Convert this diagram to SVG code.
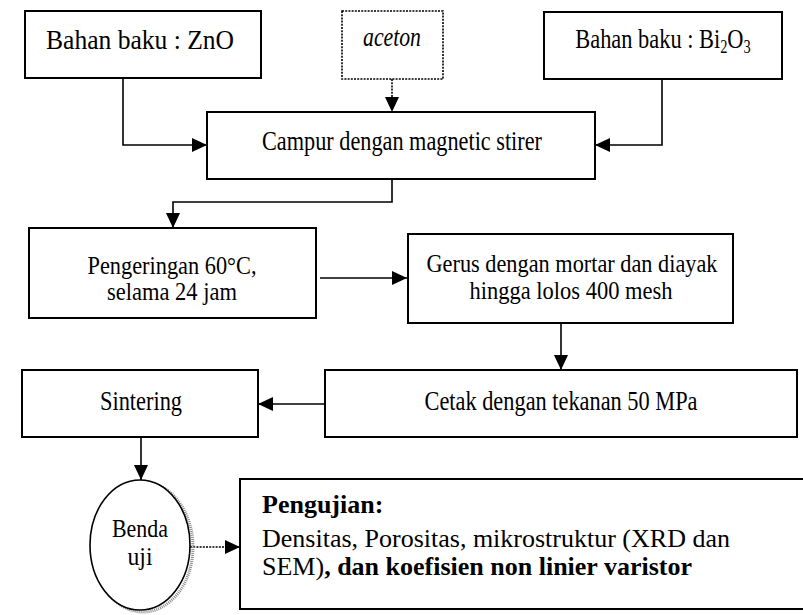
<svg xmlns="http://www.w3.org/2000/svg" width="803" height="615" viewBox="0 0 803 615">
<style>
.box{fill:#fff;stroke:#000;stroke-width:2}
.dot{fill:#fff;stroke:#000;stroke-width:1.6;stroke-dasharray:2 1.2}
.t{font-family:"Liberation Serif","Times New Roman",serif;font-size:26px;fill:#000}
.k{font-size:28px}
.s{font-size:25px}
.m{text-anchor:middle}
.c{fill:none;stroke:#000;stroke-width:1.6}
.cd{fill:none;stroke:#000;stroke-width:1.6;stroke-dasharray:2 1.2}
.b{font-weight:bold}
</style>
<defs>
<marker id="ah" markerUnits="userSpaceOnUse" markerWidth="16" markerHeight="14" refX="15" refY="7" orient="auto">
<path d="M0,0 L15,7 L0,14 Z" fill="#000"/>
</marker>
</defs>
<g id="connectors">
<path class="c" d="M123,78 V145 H207" marker-end="url(#ah)"/>
<path class="cd" d="M392,79 V112" marker-end="url(#ah)"/>
<path class="c" d="M662,79 V145 H595" marker-end="url(#ah)"/>
<path class="c" d="M392,179 V202 H173 V228" marker-end="url(#ah)"/>
<path class="c" d="M320,278 H407" marker-end="url(#ah)"/>
<path class="c" d="M561,323 V370" marker-end="url(#ah)"/>
<path class="c" d="M325,404 H258" marker-end="url(#ah)"/>
<path class="c" d="M141,437 V480" marker-end="url(#ah)"/>
<path class="cd" d="M190,547 H240" marker-end="url(#ah)"/>
</g>
<g id="zno">
<rect class="box" x="25" y="11" width="236" height="67"/>
<text class="t k m" x="140" y="49" textLength="188" lengthAdjust="spacingAndGlyphs">Bahan baku : ZnO</text>
</g>
<g id="aceton">
<rect class="dot" x="342" y="11" width="101" height="68"/>
<text class="t k m" x="392" y="46" font-style="italic" textLength="58" lengthAdjust="spacingAndGlyphs">aceton</text>
</g>
<g id="bi2o3">
<rect class="box" x="544" y="12" width="238" height="67"/>
<text class="t k m" transform="translate(663,48) scale(0.8,1)">Bahan baku : Bi<tspan dy="5" font-size="18">2</tspan><tspan dy="-5">O</tspan><tspan dy="5" font-size="18">3</tspan></text>
</g>
<g id="campur">
<rect class="box" x="207" y="112" width="388" height="67"/>
<text class="t k m" x="402" y="150" textLength="280" lengthAdjust="spacingAndGlyphs">Campur dengan magnetic stirer</text>
</g>
<g id="pengeringan">
<rect class="box" x="29" y="228" width="287" height="90"/>
<text class="t s m" x="172" y="274" textLength="169" lengthAdjust="spacingAndGlyphs">Pengeringan 60°C,</text>
<text class="t s m" x="172" y="300" textLength="130" lengthAdjust="spacingAndGlyphs">selama 24 jam</text>
</g>
<g id="gerus">
<rect class="box" x="408" y="234" width="325" height="89"/>
<text class="t s m" x="572" y="272" textLength="291" lengthAdjust="spacingAndGlyphs">Gerus dengan mortar dan diayak</text>
<text class="t s m" x="571" y="299" textLength="203" lengthAdjust="spacingAndGlyphs">hingga lolos 400 mesh</text>
</g>
<g id="cetak">
<rect class="box" x="325" y="370" width="472" height="67"/>
<text class="t k m" x="561" y="410" textLength="273" lengthAdjust="spacingAndGlyphs">Cetak dengan tekanan 50 MPa</text>
</g>
<g id="sintering">
<rect class="box" x="22" y="370" width="236" height="67"/>
<text class="t k m" x="141" y="410" textLength="82" lengthAdjust="spacingAndGlyphs">Sintering</text>
</g>
<g id="benda">
<ellipse cx="143" cy="547" rx="50" ry="65" fill="none" stroke="#888" stroke-width="3" stroke-dasharray="1 1"/>
<ellipse cx="140" cy="545" rx="50" ry="65" fill="#fff" stroke="#000" stroke-width="1.6"/>
<text class="t s m" x="140" y="537" textLength="56" lengthAdjust="spacingAndGlyphs">Benda</text>
<text class="t s m" x="140" y="565" textLength="25" lengthAdjust="spacingAndGlyphs">uji</text>
</g>
<g id="pengujian">
<rect class="box" x="240" y="479" width="570" height="130"/>
<text class="t b" x="262" y="513">Pengujian:</text>
<text class="t" x="262" y="547">Densitas, Porositas, mikrostruktur (XRD dan</text>
<text class="t" x="262" y="575">SEM)<tspan class="b">, dan koefisien non linier varistor</tspan></text>
</g>
</svg>
